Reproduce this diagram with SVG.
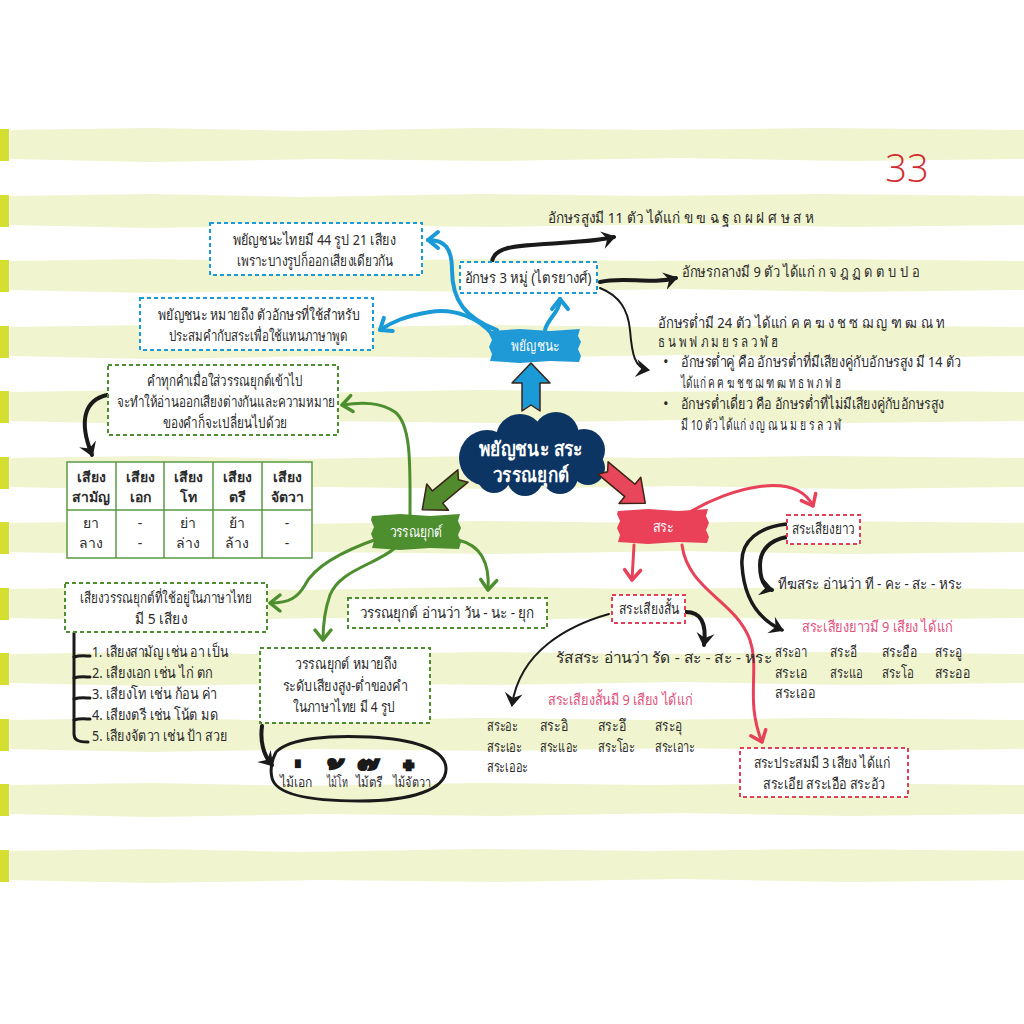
<svg xmlns="http://www.w3.org/2000/svg" width="1024" height="1024" viewBox="0 0 1024 1024">
<style>
text{font-family:"Noto Sans","DejaVu Sans",sans-serif;font-size:15px;fill:#2b2b2b}
.c{text-anchor:middle}
.w{fill:#fff;font-size:15px}
.hd{font-weight:600;font-size:14px}
.g{font-size:14px}
.red{fill:#e3507a}
.bb{fill:#fff;stroke:#1a9ad6;stroke-width:2;stroke-dasharray:4 3}
.gb{fill:#fff;stroke:#4d8e2f;stroke-width:2;stroke-dasharray:4 3}
.rb{fill:#fff;stroke:#e0405a;stroke-width:2;stroke-dasharray:4 3}
.lb{fill:none;stroke:#1a9ad6;stroke-width:4;stroke-linecap:round;marker-end:url(#mB)}
.lg{fill:none;stroke:#4d8e2f;stroke-width:3;stroke-linecap:round;marker-end:url(#mG)}
.lr{fill:none;stroke:#e8415a;stroke-width:3;stroke-linecap:round;marker-end:url(#mR)}
.lk{fill:none;stroke:#1a1a1a;stroke-width:4;stroke-linecap:round;marker-end:url(#mK)}
.lt{fill:none;stroke:#1a1a1a;stroke-width:2;stroke-linecap:round;marker-end:url(#mK)}
.br{fill:none;stroke:#1a1a1a;stroke-width:3;stroke-linecap:round}
.blk{stroke:#3a2418;stroke-width:1.5;stroke-linejoin:round}
.tbl{fill:#fff;stroke:#5a9a44;stroke-width:1.5}
.mk{font-size:40px;font-weight:bold;fill:#1a1a1a;stroke:#1a1a1a;stroke-width:2;text-anchor:middle}
.lbl{font-size:14px;text-anchor:middle}
</style>
<defs>
<path id="stripe" d="M10 2 L150 0 L300 3 L480 0 L650 2 L820 0 L1024 2 L1024 31 L850 33 L680 30 L500 33 L320 31 L150 34 L10 31 Z" fill="#f0f4cf"/>
<g id="stab"><use href="#stripe"/><rect x="0" y="1" width="9" height="32" fill="#d5df2f"/></g>
<marker id="mB" markerUnits="userSpaceOnUse" markerWidth="24" markerHeight="24" viewBox="-14 -12 24 24" refX="0" refY="0" orient="auto"><path d="M-10 -8 L0 0 L-10 8" fill="none" stroke="#1a9ad6" stroke-width="4" stroke-linecap="round" stroke-linejoin="round"/></marker>
<marker id="mG" markerUnits="userSpaceOnUse" markerWidth="24" markerHeight="24" viewBox="-14 -12 24 24" refX="0" refY="0" orient="auto"><path d="M-10 -8 L0 0 L-10 8" fill="none" stroke="#4d8e2f" stroke-width="3.5" stroke-linecap="round" stroke-linejoin="round"/></marker>
<marker id="mR" markerUnits="userSpaceOnUse" markerWidth="24" markerHeight="24" viewBox="-14 -12 24 24" refX="0" refY="0" orient="auto"><path d="M-10 -8 L0 0 L-10 8" fill="none" stroke="#e8415a" stroke-width="3.5" stroke-linecap="round" stroke-linejoin="round"/></marker>
<marker id="mK" markerUnits="userSpaceOnUse" markerWidth="26" markerHeight="26" viewBox="-14 -13 26 26" refX="0" refY="0" orient="auto"><path d="M-12 -9 L2 0 L-12 9 L-7 0 Z" fill="#1a1a1a"/></marker>
</defs>

<rect width="1024" height="1024" fill="#fff"/>
<g id="background">
<use href="#stab" y="128"/><use href="#stab" y="194"/><use href="#stab" y="259"/><use href="#stab" y="325"/>
<use href="#stab" y="390"/><use href="#stab" y="456"/><use href="#stab" y="521"/><use href="#stab" y="587"/>
<use href="#stab" y="652"/><use href="#stab" y="718"/><use href="#stab" y="783"/><use href="#stab" y="849"/>
<text x="907" y="182" class="c" style="font-family:'Open Sans',sans-serif;font-weight:300;font-size:38px;fill:#d42a2e">33</text>
</g>

<g id="connectors">
<path class="lb" d="M497 330 C465 318 452 300 452 270 C452 248 445 240 428 240"/>
<path class="lb" d="M492 334 C478 318 455 308 430 312 C405 316 392 322 380 330"/>
<path class="lb" d="M545 330 C548 318 560 312 560 299"/>
<path class="lk" d="M492 262 C494 245 520 246 560 243 C590 241 603 240 614 237"/>
<path class="lk" d="M600 282 C625 276 650 285 676 278"/>
<path class="lt" d="M600 288 C620 296 628 310 630 330 C632 355 635 368 648 370"/>
<path class="lg" d="M410 515 C410 470 412 425 395 412 C380 402 362 402 342 405"/>
<path class="lg" d="M380 538 C345 550 315 565 305 585 C298 597 290 603 270 603"/>
<path class="lg" d="M395 548 C375 565 340 570 330 595 C324 612 323 625 323 640"/>
<path class="lg" d="M458 540 C480 545 490 562 488 590"/>
<path class="lk" d="M107 395 C85 400 78 420 92 455"/>
<path class="br" d="M74 633 L74 734 C74 740 78 742 88 742"/>
<path class="br" d="M74 657 C80 655 86 656 90 656"/>
<path class="br" d="M74 678 C80 676 86 677 90 677"/>
<path class="br" d="M74 699 C80 697 86 698 90 698"/>
<path class="br" d="M74 720 C80 718 86 719 90 719"/>
<path class="lk" d="M262 726 C260 740 263 755 272 765"/>
<path class="lr" d="M690 512 C730 488 795 470 813 506"/>
<path class="lr" d="M634 545 L632 580"/>
<path class="lr" d="M682 545 C688 590 735 600 750 640 C760 670 745 700 762 742"/>
<path class="lk" style="stroke-width:3.5" d="M787 524 C760 527 740 540 742 565 C744 600 760 620 782 630"/>
<path class="lk" d="M787 537 C770 540 760 550 760 565 C760 580 765 588 772 590"/>
<path class="lk" d="M686 612 C700 612 707 622 704 645"/>
<path class="lt" d="M609 614 C570 625 520 650 512 705"/>
</g>

<g id="center">
<g fill="#0d3563">
<circle cx="487" cy="458" r="28"/><circle cx="520" cy="438" r="24"/><circle cx="556" cy="435" r="23"/>
<circle cx="584" cy="450" r="21"/><circle cx="588" cy="468" r="17"/><circle cx="560" cy="476" r="18"/>
<circle cx="525" cy="478" r="18"/><circle cx="494" cy="476" r="17"/><ellipse cx="535" cy="458" rx="60" ry="28"/>
</g>
<text x="531" y="456" class="c" textLength="104" lengthAdjust="spacingAndGlyphs" style="fill:#fff;font-weight:bold;font-size:20px">พยัญชนะ สระ</text>
<text x="531" y="482" class="c" textLength="76" lengthAdjust="spacingAndGlyphs" style="fill:#fff;font-weight:bold;font-size:20px">วรรณยุกต์</text>
</g>

<g id="block-arrows">
<polygon class="blk" fill="#1a9ad6" transform="translate(531 411) rotate(-90)" points="0,-9 28,-9 28,-19 48,0 28,19 28,9 0,9 6,0"/>
<polygon class="blk" fill="#528a2e" transform="translate(463 476) rotate(140.3)" points="0,-8 33,-8 33,-17 53,0 33,17 33,8 0,8 6,0"/>
<polygon class="blk" fill="#e8465a" transform="translate(603 468) rotate(39.8)" points="0,-8 35,-8 35,-17 55,0 35,17 35,8 0,8 6,0"/>
</g>

<g id="node-consonant">
<polygon fill="#1f9ad6" points="490,331 520,329 550,331 580,329 578,336 581,342 578,349 581,356 579,362 550,361 520,363 490,361 492,354 489,347 492,340 489,334"/>
<text x="535" y="351" class="c w" textLength="48" lengthAdjust="spacingAndGlyphs">พยัญชนะ</text>
</g>
<g id="node-tone">
<polygon fill="#4d8e2f" points="372,516 400,514 430,516 460,514 458,521 461,528 458,535 461,542 459,549 430,548 400,550 372,548 374,541 371,534 374,527 371,520"/>
<text x="416" y="537" class="c w" textLength="53" lengthAdjust="spacingAndGlyphs">วรรณยุกต์</text>
</g>
<g id="node-vowel">
<polygon fill="#ea4058" points="618,511 648,509 678,511 708,509 706,516 709,523 706,530 709,537 707,543 678,542 648,544 618,542 620,535 617,528 620,521 617,514"/>
<text x="663" y="532" class="c w" textLength="21" lengthAdjust="spacingAndGlyphs">สระ</text>
</g>

<g id="node-thai44">
<rect class="bb" x="210" y="223" width="212" height="52"/>
<text x="314" y="245" class="c" textLength="163" lengthAdjust="spacingAndGlyphs">พยัญชนะไทยมี 44 รูป 21 เสียง</text>
<text x="315" y="266" class="c" textLength="156" lengthAdjust="spacingAndGlyphs">เพราะบางรูปก็ออกเสียงเดียวกัน</text>
</g>
<g id="node-meaning">
<rect class="bb" x="140" y="298" width="233" height="52"/>
<text x="259" y="320" class="c" textLength="202" lengthAdjust="spacingAndGlyphs">พยัญชนะ หมายถึง ตัวอักษรที่ใช้สำหรับ</text>
<text x="258" y="341" class="c" textLength="179" lengthAdjust="spacingAndGlyphs">ประสมคำกับสระเพื่อใช้แทนภาษาพูด</text>
</g>
<g id="node-3groups">
<rect class="bb" x="460" y="262" width="137" height="31"/>
<text x="528" y="283" class="c" textLength="127" lengthAdjust="spacingAndGlyphs">อักษร 3 หมู่ (ไตรยางศ์)</text>
</g>
<g id="node-high"><text x="548" y="223" textLength="266" lengthAdjust="spacingAndGlyphs">อักษรสูงมี 11 ตัว ได้แก่ ข ฃ ฉ ฐ ถ ผ ฝ ศ ษ ส ห</text></g>
<g id="node-mid"><text x="682" y="277" textLength="238" lengthAdjust="spacingAndGlyphs">อักษรกลางมี 9 ตัว ได้แก่ ก จ ฎ ฏ ด ต บ ป อ</text></g>
<g id="node-low">
<text x="658" y="328" textLength="287" lengthAdjust="spacingAndGlyphs">อักษรต่ำมี 24 ตัว ได้แก่ ค ฅ ฆ ง ช ซ ฌ ญ ฑ ฒ ณ ท</text>
<text x="658" y="347" textLength="120" lengthAdjust="spacingAndGlyphs">ธ น พ ฟ ภ ม ย ร ล ว ฬ ฮ</text>
<text x="663" y="367">•</text>
<text x="681" y="367" textLength="280" lengthAdjust="spacingAndGlyphs">อักษรต่ำคู่ คือ อักษรต่ำที่มีเสียงคู่กับอักษรสูง มี 14 ตัว</text>
<text x="681" y="388" textLength="160" lengthAdjust="spacingAndGlyphs">ได้แก่ ค ฅ ฆ ช ซ ฌ ฑ ฒ ท ธ พ ภ ฟ ฮ</text>
<text x="663" y="409">•</text>
<text x="681" y="409" textLength="263" lengthAdjust="spacingAndGlyphs">อักษรต่ำเดี่ยว คือ อักษรต่ำที่ไม่มีเสียงคู่กับอักษรสูง</text>
<text x="681" y="430" textLength="160" lengthAdjust="spacingAndGlyphs">มี 10 ตัว ได้แก่ ง ญ ณ น ม ย ร ล ว ฬ</text>
</g>

<g id="node-tone-change">
<rect class="gb" x="108" y="365" width="230" height="70"/>
<text x="225" y="386" class="c" textLength="156" lengthAdjust="spacingAndGlyphs">คำทุกคำเมื่อใส่วรรณยุกต์เข้าไป</text>
<text x="226" y="407" class="c" textLength="218" lengthAdjust="spacingAndGlyphs">จะทำให้อ่านออกเสียงต่างกันและความหมาย</text>
<text x="225" y="428" class="c" textLength="124" lengthAdjust="spacingAndGlyphs">ของคำก็จะเปลี่ยนไปด้วย</text>
</g>
<g id="node-table">
<rect class="tbl" x="67" y="462" width="245" height="96"/>
<path d="M67 510 H312 M116 462 V558 M164 462 V558 M213 462 V558 M262 462 V558" stroke="#5a9a44" stroke-width="1.5" fill="none"/>
<text x="91" y="482" class="c hd">เสียง</text><text x="91" y="502" class="c hd">สามัญ</text>
<text x="140" y="482" class="c hd">เสียง</text><text x="140" y="502" class="c hd">เอก</text>
<text x="188" y="482" class="c hd">เสียง</text><text x="188" y="502" class="c hd">โท</text>
<text x="237" y="482" class="c hd">เสียง</text><text x="237" y="502" class="c hd">ตรี</text>
<text x="287" y="482" class="c hd">เสียง</text><text x="287" y="502" class="c hd">จัตวา</text>
<text x="91" y="528" class="c g">ยา</text><text x="91" y="548" class="c g">ลาง</text>
<text x="140" y="528" class="c g">-</text><text x="140" y="548" class="c g">-</text>
<text x="188" y="528" class="c g">ย่า</text><text x="188" y="548" class="c g">ล่าง</text>
<text x="237" y="528" class="c g">ย้า</text><text x="237" y="548" class="c g">ล้าง</text>
<text x="287" y="528" class="c g">-</text><text x="287" y="548" class="c g">-</text>
</g>
<g id="node-five-tones">
<rect class="gb" x="65" y="583" width="202" height="49"/>
<text x="166" y="603" class="c" textLength="172" lengthAdjust="spacingAndGlyphs">เสียงวรรณยุกต์ที่ใช้อยู่ในภาษาไทย</text>
<text x="161" y="624" class="c" textLength="52" lengthAdjust="spacingAndGlyphs">มี 5 เสียง</text>
</g>
<g id="node-tone-list">
<text x="92" y="657" textLength="136" lengthAdjust="spacingAndGlyphs">1. เสียงสามัญ เช่น อา เป็น</text>
<text x="92" y="678" textLength="121" lengthAdjust="spacingAndGlyphs">2. เสียงเอก เช่น ไก่ ตก</text>
<text x="92" y="699" textLength="125" lengthAdjust="spacingAndGlyphs">3. เสียงโท เช่น ก้อน ค่า</text>
<text x="92" y="720" textLength="126" lengthAdjust="spacingAndGlyphs">4. เสียงตรี เช่น โน้ต มด</text>
<text x="92" y="741" textLength="135" lengthAdjust="spacingAndGlyphs">5. เสียงจัตวา เช่น ป้า สวย</text>
</g>
<g id="node-read-tone">
<rect class="gb" x="348" y="598" width="199" height="30"/>
<text x="447" y="618" class="c" textLength="175" lengthAdjust="spacingAndGlyphs">วรรณยุกต์ อ่านว่า วัน - นะ - ยุก</text>
</g>
<g id="node-tone-def">
<rect class="gb" x="260" y="648" width="170" height="75"/>
<text x="346" y="669" class="c" textLength="102" lengthAdjust="spacingAndGlyphs">วรรณยุกต์ หมายถึง</text>
<text x="345" y="691" class="c" textLength="125" lengthAdjust="spacingAndGlyphs">ระดับเสียงสูง-ต่ำของคำ</text>
<text x="344" y="712" class="c" textLength="102" lengthAdjust="spacingAndGlyphs">ในภาษาไทย มี 4 รูป</text>
</g>
<g id="node-tone-marks">
<path d="M276 752 C290 738 330 735 370 737 C410 739 445 748 446 768 C447 790 410 801 360 801 C310 801 276 795 272 778 C270 770 272 760 276 752" fill="none" stroke="#1a1a1a" stroke-width="3"/>
<text x="297" y="802" class="mk">&#xA0;&#x0E48;</text>
<text x="336" y="802" class="mk">&#xA0;&#x0E49;</text>
<text x="370" y="802" class="mk">&#xA0;&#x0E4A;</text>
<text x="410" y="802" class="mk">&#xA0;&#x0E4B;</text>
<text x="296" y="787" class="lbl" textLength="32" lengthAdjust="spacingAndGlyphs">ไม้เอก</text>
<text x="337" y="787" class="lbl" textLength="21" lengthAdjust="spacingAndGlyphs">ไม้โท</text>
<text x="369" y="787" class="lbl" textLength="27" lengthAdjust="spacingAndGlyphs">ไม้ตรี</text>
<text x="412" y="787" class="lbl" textLength="38" lengthAdjust="spacingAndGlyphs">ไม้จัตวา</text>
</g>

<g id="node-long">
<rect class="rb" x="787" y="515" width="73" height="29"/>
<text x="823" y="534" class="c" textLength="63" lengthAdjust="spacingAndGlyphs">สระเสียงยาว</text>
</g>
<g id="node-long-read"><text x="778" y="589" textLength="184" lengthAdjust="spacingAndGlyphs">ทีฆสระ อ่านว่า ที - คะ - สะ - หระ</text></g>
<g id="node-long-list">
<text x="802" y="632" class="red" textLength="151" lengthAdjust="spacingAndGlyphs">สระเสียงยาวมี  9 เสียง ได้แก่</text>
<text x="775" y="657" textLength="32" lengthAdjust="spacingAndGlyphs">สระอา</text><text x="830" y="657" textLength="27" lengthAdjust="spacingAndGlyphs">สระอี</text><text x="882" y="657" textLength="35" lengthAdjust="spacingAndGlyphs">สระอือ</text><text x="935" y="657" textLength="27" lengthAdjust="spacingAndGlyphs">สระอู</text>
<text x="775" y="678" textLength="32" lengthAdjust="spacingAndGlyphs">สระเอ</text><text x="830" y="678" textLength="33" lengthAdjust="spacingAndGlyphs">สระแอ</text><text x="882" y="678" textLength="32" lengthAdjust="spacingAndGlyphs">สระโอ</text><text x="935" y="678" textLength="35" lengthAdjust="spacingAndGlyphs">สระออ</text>
<text x="775" y="698" textLength="40" lengthAdjust="spacingAndGlyphs">สระเออ</text>
</g>
<g id="node-short">
<rect class="rb" x="612" y="595" width="73" height="28"/>
<text x="649" y="614" class="c" textLength="60" lengthAdjust="spacingAndGlyphs">สระเสียงสั้น</text>
</g>
<g id="node-short-read"><text x="556" y="663" textLength="216" lengthAdjust="spacingAndGlyphs">รัสสระ อ่านว่า รัด - สะ - สะ - หระ</text></g>
<g id="node-short-list">
<text x="548" y="705" class="red" textLength="145" lengthAdjust="spacingAndGlyphs">สระเสียงสั้นมี 9  เสียง ได้แก่</text>
<text x="487" y="731" textLength="31" lengthAdjust="spacingAndGlyphs">สระอะ</text><text x="540" y="731" textLength="28" lengthAdjust="spacingAndGlyphs">สระอิ</text><text x="598" y="731" textLength="28" lengthAdjust="spacingAndGlyphs">สระอึ</text><text x="655" y="731" textLength="27" lengthAdjust="spacingAndGlyphs">สระอุ</text>
<text x="487" y="752" textLength="35" lengthAdjust="spacingAndGlyphs">สระเอะ</text><text x="540" y="752" textLength="38" lengthAdjust="spacingAndGlyphs">สระแอะ</text><text x="598" y="752" textLength="37" lengthAdjust="spacingAndGlyphs">สระโอะ</text><text x="655" y="752" textLength="40" lengthAdjust="spacingAndGlyphs">สระเอาะ</text>
<text x="487" y="772" textLength="41" lengthAdjust="spacingAndGlyphs">สระเออะ</text>
</g>
<g id="node-diphthong">
<rect class="rb" x="740" y="748" width="168" height="49"/>
<text x="822" y="768" class="c" textLength="137" lengthAdjust="spacingAndGlyphs">สระประสมมี 3 เสียง ได้แก่</text>
<text x="824" y="789" class="c" textLength="122" lengthAdjust="spacingAndGlyphs">สระเอีย สระเอือ สระอัว</text>
</g>
</svg>
